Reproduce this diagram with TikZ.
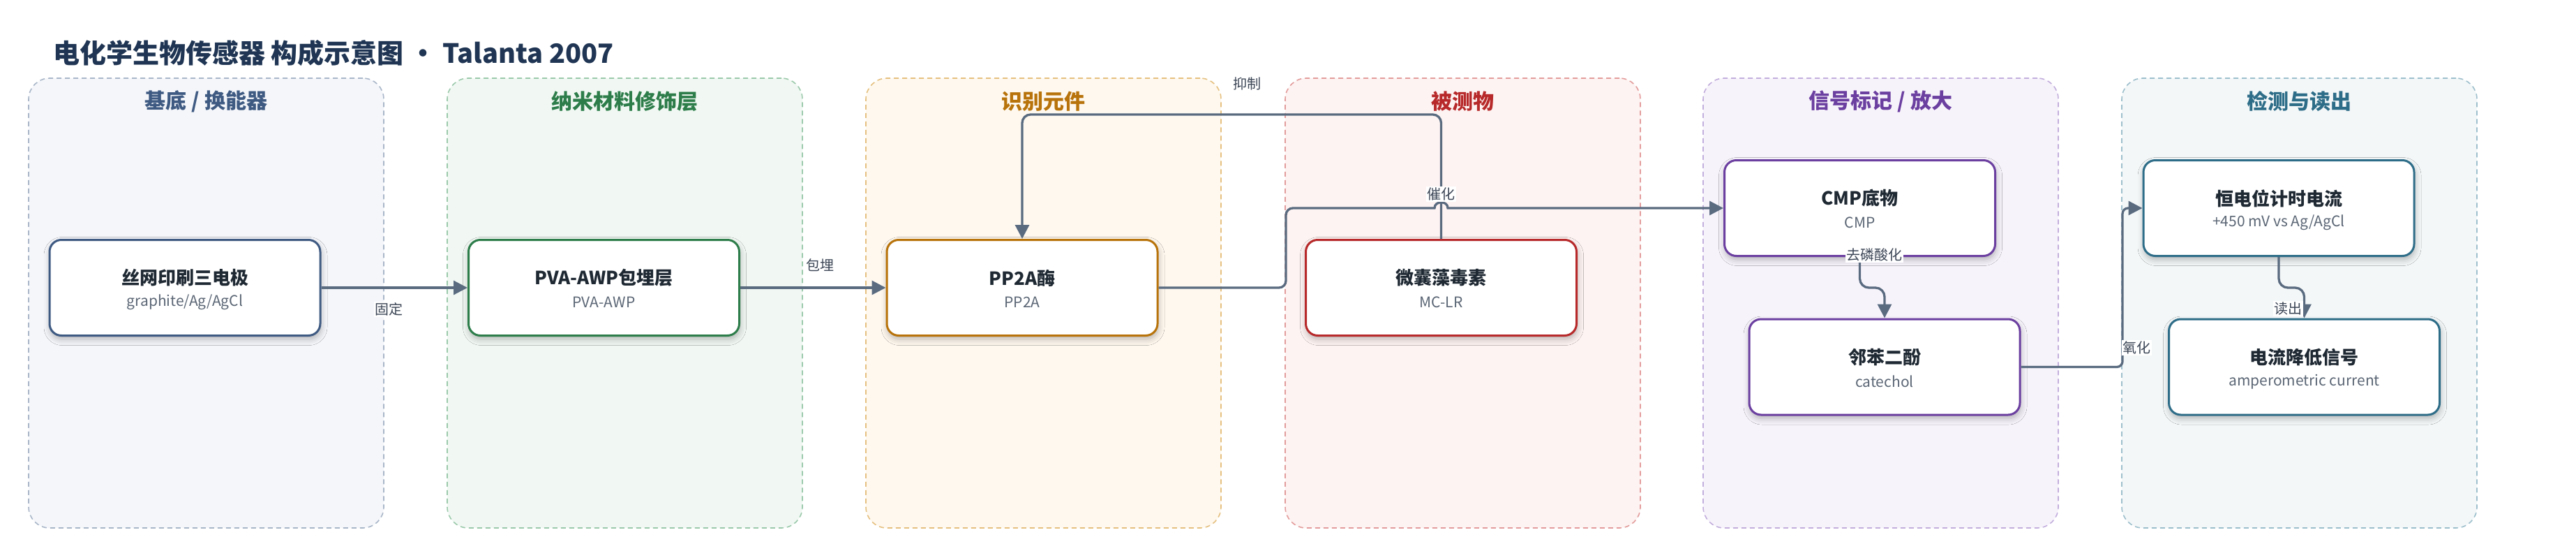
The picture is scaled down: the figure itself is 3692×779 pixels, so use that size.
\documentclass[tikz,border=0pt]{standalone}
\usepackage{fontspec}
\setmainfont{Noto Sans CJK SC}
\usetikzlibrary{arrows.meta,shadows.blur}
\definecolor{cTitle}{HTML}{1F3553}
\definecolor{cMain}{HTML}{1F2933}
\definecolor{cSub}{HTML}{5B6675}
\definecolor{cEdge}{HTML}{5A6B80}
\definecolor{cLab}{HTML}{3C4656}
\definecolor{dA}{HTML}{A9B6C8}\definecolor{fA}{HTML}{F4F6FA}\definecolor{tA}{HTML}{3F5A82}
\definecolor{dB}{HTML}{9BC9AB}\definecolor{fB}{HTML}{F1F8F3}\definecolor{tB}{HTML}{2D7D4A}
\definecolor{dC}{HTML}{E5C07F}\definecolor{fC}{HTML}{FEF8EF}\definecolor{tC}{HTML}{B8730A}
\definecolor{dD}{HTML}{E39C9C}\definecolor{fD}{HTML}{FDF3F2}\definecolor{tD}{HTML}{B7292A}
\definecolor{dE}{HTML}{C2AEDC}\definecolor{fE}{HTML}{F7F3FB}\definecolor{tE}{HTML}{6B3FA0}
\definecolor{dF}{HTML}{9DBFCC}\definecolor{fF}{HTML}{F3F7F8}\definecolor{tF}{HTML}{2E6D88}
\begin{document}
\begin{tikzpicture}[x=1pt,y=-1pt,
  lanebox/.style 2 args={draw=#1, fill=#2, line width=1.6pt, dash pattern=on 7pt off 5pt,
    rounded corners=30pt, minimum width=509pt, minimum height=644pt, inner sep=0pt},
  lanetitle/.style={text=#1, font=\fontsize{30pt}{34pt}\selectfont\bfseries, inner sep=0pt},
  box/.style={draw=#1, line width=3pt, fill=white, rounded corners=17pt,
    minimum width=388pt, minimum height=137pt, inner sep=0pt,
    blur shadow={shadow xshift=1pt, shadow yshift=-5pt, shadow blur radius=9pt, shadow opacity=28}},
  maintext/.style={text=cMain, font=\fontsize{26pt}{30pt}\selectfont\bfseries, inner sep=0pt},
  subtext/.style={text=cSub, font=\fontsize{21pt}{25pt}\selectfont, inner sep=0pt},
  edge/.style={draw=cEdge, line width=3.3pt, -{Triangle[length=20pt,width=20pt]}},
  elabel/.style={fill=white, text=cLab, font=\fontsize{20pt}{24pt}\selectfont, inner sep=1.5pt}
]
\useasboundingbox (0,0) rectangle (3692,779);

% title
\node[anchor=base west, text=cTitle, font=\fontsize{38pt}{44pt}\selectfont\bfseries, inner sep=0pt]
  (title) at (76,90) {电化学生物传感器 构成示意图 • Talanta 2007};

% lanes
\node[lanebox={dA}{fA}] (L1) at (295.5,434) {};
\node[lanebox={dB}{fB}] (L2) at (895.5,434) {};
\node[lanebox={dC}{fC}] (L3) at (1495.5,434) {};
\node[lanebox={dD}{fD}] (L4) at (2096.5,434) {};
\node[lanebox={dE}{fE}] (L5) at (2695.5,434) {};
\node[lanebox={dF}{fF}] (L6) at (3295.5,434) {};

\node[lanetitle=tA] (T1) at (295.5,145) {基底 / 换能器};
\node[lanetitle=tB] (T2) at (895.5,145) {纳米材料修饰层};
\node[lanetitle=tC] (T3) at (1495.5,145) {识别元件};
\node[lanetitle=tD] (T4) at (2096.5,145) {被测物};
\node[lanetitle=tE] (T5) at (2695.5,145) {信号标记 / 放大};
\node[lanetitle=tF] (T6) at (3295.5,145) {检测与读出};

% boxes
\node[box=tA] (n1) at (265,412) {};
\node[box=tB] (n2) at (865.5,412) {};
\node[box=tC] (n3) at (1465,412) {};
\node[box=tD] (n4) at (2065.5,412) {};
\node[box=tE] (n5) at (2665.5,298) {};
\node[box=tE] (n6) at (2701,525.5) {};
\node[box=tF] (n7) at (3266,298) {};
\node[box=tF] (n8) at (3302.5,525.5) {};

\node[maintext] (m1) at ([yshift=14pt]n1.center) {丝网印刷三电极};
\node[subtext]  (s1) at ([yshift=-21pt]n1.center) {graphite/Ag/AgCl};
\node[maintext] (m2) at ([yshift=14pt]n2.center) {PVA-AWP包埋层};
\node[subtext]  (s2) at ([yshift=-21pt]n2.center) {PVA-AWP};
\node[maintext] (m3) at ([yshift=14pt]n3.center) {PP2A酶};
\node[subtext]  (s3) at ([yshift=-21pt]n3.center) {PP2A};
\node[maintext] (m4) at ([yshift=14pt]n4.center) {微囊藻毒素};
\node[subtext]  (s4) at ([yshift=-21pt]n4.center) {MC-LR};
\node[maintext] (m5) at ([yshift=14pt]n5.center) {CMP底物};
\node[subtext]  (s5) at ([yshift=-21pt]n5.center) {CMP};
\node[maintext] (m6) at ([yshift=14pt]n6.center) {邻苯二酚};
\node[subtext]  (s6) at ([yshift=-21pt]n6.center) {catechol};
\node[maintext] (m7) at ([yshift=14pt]n7.center) {恒电位计时电流};
\node[subtext]  (s7) at ([yshift=-21pt]n7.center) {+450 mV vs Ag/AgCl};
\node[maintext] (m8) at ([yshift=14pt]n8.center) {电流降低信号};
\node[subtext]  (s8) at ([yshift=-21pt]n8.center) {amperometric current};

% connectors
\draw[edge] (n1.east) -- (n2.west);
\draw[edge] (n2.east) -- (n3.west);
\draw[edge, rounded corners=12pt] (n4.north) -- (n4.north |- 0,164) -- (n3.north |- 0,164) -- (n3.north);
\draw[edge] (n3.east) [rounded corners=10pt] -- (1843,412) -- (1843,298) -- (1950,298) [sharp corners]
  -- (2056,298) .. controls (2056,287) and (2075,287) .. (2075,298) -- (n5.west);
\draw[edge, rounded corners=13pt] (n5.south) -- (n5.south |- 0,412) -- (n6.north |- 0,412) -- (n6.north);
\draw[edge, rounded corners=8pt] (n6.east) -- (3042,525.5) -- (3042,298) -- (n7.west);
\draw[edge, rounded corners=13pt] (n7.south) -- (n7.south |- 0,412) -- (n8.north |- 0,412) -- (n8.north);

% labels
\node[elabel] (l1) at (557,443) {固定};
\node[elabel] (l2) at (1175,380) {包埋};
\node[elabel] (l3) at (1787,120) {抑制};
\node[elabel] (l4) at (2065,278) {催化};
\node[elabel] (l5) at (2686,365) {去磷酸化};
\node[elabel] (l6) at (3062,498) {氧化};
\node[elabel] (l7) at (3279,442) {读出};
\end{tikzpicture}
\end{document}
